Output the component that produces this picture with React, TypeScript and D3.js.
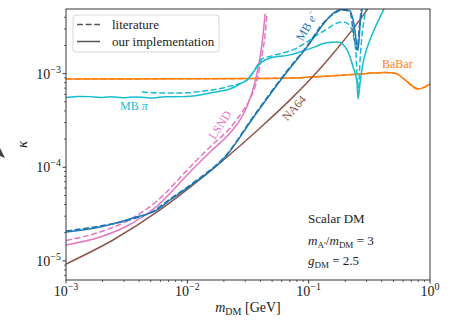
import React from 'react';
import * as d3 from 'd3';

type P = [number, number];

// axis ticks
const xMajor = [1e-3, 1e-2, 1e-1, 1];
const xMajorExp = ['−3', '−2', '−1', '0'];
const yMajor = [1e-5, 1e-4, 1e-3];
const yMajorExp = ['−5', '−4', '−3'];

// series (m_DM [GeV], kappa)
const babar: P[] = [[1e-3, 8.78e-4], [1e-2, 8.8e-4], [3e-2, 8.85e-4], [8.5e-2, 9.06e-4], [0.25, 9.85e-4], [0.426, 1.025e-3], [0.516, 1.01e-3], [0.623, 8.57e-4], [0.798, 6.86e-4], [0.911, 7.21e-4], [1.0, 7.76e-4]];

const na64: P[] = [[1e-3, 9.27e-6], [2.441e-3, 1.672e-5], [5.953e-3, 3.5e-5], [1.114e-2, 6.47e-5], [2.125e-2, 1.288e-4], [3.974e-2, 2.63e-4], [7.026e-2, 5.24e-4], [0.1365, 1.3e-3], [0.303, 4.793e-3], [0.32, 5.3e-3]];

const lsndLit: P[] = [[1e-3, 1.651e-5], [1.907e-3, 2.036e-5], [3.183e-3, 2.668e-5], [5.625e-3, 4.365e-5], [1.053e-2, 1.007e-4], [1.539e-2, 1.648e-4], [2.249e-2, 2.63e-4], [2.72e-2, 3.62e-4], [3.288e-2, 5.37e-4], [3.754e-2, 8.57e-4], [4.128e-2, 1.585e-3], [4.37e-2, 2.592e-3], [4.539e-2, 4.45e-3]];
const lsndOurs: P[] = [[1e-3, 1.479e-5], [1.907e-3, 1.8e-5], [3.183e-3, 2.36e-5], [5.625e-3, 3.86e-5], [1.053e-2, 8.91e-5], [1.539e-2, 1.457e-4], [2.249e-2, 2.325e-4], [2.72e-2, 3.2e-4], [3.165e-2, 4.745e-4], [3.614e-2, 8.15e-4], [3.974e-2, 1.508e-3], [4.207e-2, 2.592e-3], [4.37e-2, 4.342e-3]];

const mbELit: P[] = [[1e-3, 2.087e-5], [1.907e-3, 2.36e-5], [3.567e-3, 2.803e-5], [4.927e-3, 3.25e-5], [7.203e-3, 4.58e-5], [1.114e-2, 6.8e-5], [2.125e-2, 1.387e-4], [3.48e-2, 3.446e-4], [6.152e-2, 9.45e-4], [9.7e-2, 1.976e-3], [0.1365, 3.656e-3], [0.1651, 4.45e-3], [0.1885, 4.793e-3], [0.2194, 4.561e-3], [0.2323, 2.931e-3], [0.2506, 1.791e-3], [0.2603, 2.931e-3], [0.2704, 4.793e-3]];
const mbEOurs: P[] = [[1e-3, 2.036e-5], [1.907e-3, 2.3e-5], [3.567e-3, 2.872e-5], [5.625e-3, 3.5e-5], [7.203e-3, 4.47e-5], [1.114e-2, 6.63e-5], [2.125e-2, 1.353e-4], [3.48e-2, 3.362e-4], [6.152e-2, 9.22e-4], [9.7e-2, 1.929e-3], [0.1365, 3.567e-3], [0.1651, 4.561e-3], [0.1885, 4.85e-3], [0.2194, 4.676e-3], [0.2367, 3.314e-3], [0.2554, 1.791e-3], [0.2652, 3.314e-3], [0.2755, 4.91e-3]];

const mbPiLit: P[] = [[4.231e-3, 6.37e-4], [5.953e-3, 6.22e-4], [8.705e-3, 6.22e-4], [1.273e-2, 6.45e-4], [2.125e-2, 7.21e-4], [3.106e-2, 8.57e-4], [3.415e-2, 9.93e-4], [3.754e-2, 1.209e-3], [4.128e-2, 1.436e-3], [4.991e-2, 1.546e-3], [6.152e-2, 1.664e-3], [7.724e-2, 1.836e-3], [9.7e-2, 2.182e-3], [0.1173, 2.592e-3], [0.1418, 3.004e-3], [0.1651, 3.396e-3], [0.1885, 3.567e-3], [0.2112, 3.396e-3], [0.2323, 2.592e-3], [0.2459, 1.585e-3], [0.2554, 5.78e-4], [0.2652, 1.401e-3], [0.2755, 2.592e-3], [0.2862, 3.748e-3], [0.2973, 4.91e-3]];
const mbPiOurs: P[] = [[1e-3, 5.57e-4], [1.186e-3, 5.665e-4], [1.304e-3, 5.71e-4], [1.577e-3, 5.68e-4], [1.907e-3, 5.57e-4], [2.305e-3, 5.65e-4], [2.633e-3, 5.595e-4], [3.065e-3, 5.527e-4], [3.705e-3, 5.64e-4], [4.479e-3, 5.57e-4], [5.215e-3, 5.5e-4], [6.55e-3, 5.665e-4], [9.218e-3, 5.68e-4], [1.273e-2, 5.92e-4], [1.757e-2, 6.42e-4], [2.249e-2, 6.86e-4], [2.72e-2, 7.76e-4], [3.106e-2, 8.57e-4], [3.415e-2, 9.93e-4], [3.754e-2, 1.179e-3], [4.128e-2, 1.334e-3], [4.805e-2, 1.471e-3], [7.026e-2, 1.585e-3], [8.494e-2, 1.705e-3], [0.1129, 1.929e-3], [0.1365, 2.128e-3], [0.1747, 2.182e-3], [0.2073, 1.791e-3], [0.2323, 1.179e-3], [0.2506, 7.96e-4], [0.2554, 5.37e-4], [0.2652, 7.96e-4], [0.2808, 1.3e-3], [0.3088, 2.025e-3], [0.3461, 2.931e-3], [0.3878, 4.034e-3], [0.4183, 4.91e-3]];

const C = { blue: '#1f77b4', orange: '#ff7f0e', pink: '#e377c2', brown: '#8c564b', cyan: '#17becf' };

const W = 452, H = 324;
const M = { left: 66, right: 22, top: 9, bottom: 44 };
const FONT = "'Liberation Serif', 'DejaVu Serif', serif";
const DASH = '6,2.6';

export default function App() {
  const x = d3.scaleLog().domain([1e-3, 1]).range([M.left, W - M.right]);
  const y = d3.scaleLog().domain([6.25e-6, 4.9e-3]).range([H - M.bottom, M.top]);
  const line = d3.line<P>().x(d => x(d[0])).y(d => y(d[1])).curve(d3.curveMonotoneX);

  const series: { d: P[]; c: string; dash?: boolean }[] = [
    { d: babar, c: C.orange },
    { d: babar, c: C.orange, dash: true },
    { d: na64, c: C.brown },
    { d: lsndLit, c: C.pink, dash: true },
    { d: lsndOurs, c: C.pink },
    { d: mbPiLit, c: C.cyan, dash: true },
    { d: mbPiOurs, c: C.cyan },
    { d: mbELit, c: C.blue, dash: true },
    { d: mbEOurs, c: C.blue },
  ];

  const xMinor: number[] = [];
  for (let e = -3; e < 0; e++) for (let k = 2; k <= 9; k++) xMinor.push(k * Math.pow(10, e));
  const yMinor: number[] = [];
  for (let e = -6; e < -2; e++) for (let k = 2; k <= 9; k++) {
    const v = k * Math.pow(10, e);
    if (v >= 6.25e-6 && v <= 4.9e-3) yMinor.push(v);
  }

  const x0 = M.left, x1 = W - M.right, y0 = M.top, y1 = H - M.bottom;

  return (
    <svg width={W} height={H} style={{ position: 'absolute', left: 0, top: 0, background: '#fff', fontFamily: FONT }}>
      <defs>
        <clipPath id="plot"><rect x={x0} y={y0} width={x1 - x0} height={y1 - y0} /></clipPath>
      </defs>
      <rect x={0} y={0} width={W} height={H} fill="#fff" />
      <polygon points="0,148 5,158 0,156" fill="#444" />

      <g clipPath="url(#plot)">
        {series.map((s, i) => (
          <path key={i} d={line(s.d) || ''} fill="none" stroke={s.c} strokeWidth={1.5}
            strokeDasharray={s.dash ? DASH : undefined} strokeLinejoin="round" />
        ))}
      </g>

      {/* frame */}
      <rect x={x0} y={y0} width={x1 - x0} height={y1 - y0} fill="none" stroke="#222" strokeWidth={0.9} />

      {/* x ticks */}
      {xMajor.map((v, i) => (
        <g key={'xm' + i}>
          <line x1={x(v)} x2={x(v)} y1={y1} y2={y1 + 3.5} stroke="#222" strokeWidth={0.9} />
          <text x={x(v)} y={y1 + 16} textAnchor="middle" fontSize={14} fill="#222">
            <tspan>10</tspan><tspan dy={-6} fontSize={10}>{xMajorExp[i]}</tspan>
          </text>
        </g>
      ))}
      {xMinor.map((v, i) => (
        <line key={'xn' + i} x1={x(v)} x2={x(v)} y1={y1} y2={y1 + 2} stroke="#222" strokeWidth={0.7} />
      ))}
      {/* y ticks */}
      {yMajor.map((v, i) => (
        <g key={'ym' + i}>
          <line x1={x0 - 3.5} x2={x0} y1={y(v)} y2={y(v)} stroke="#222" strokeWidth={0.9} />
          <text x={x0 - 5} y={y(v) + 5} textAnchor="end" fontSize={14} fill="#222">
            <tspan>10</tspan><tspan dy={-6} fontSize={10}>{yMajorExp[i]}</tspan>
          </text>
        </g>
      ))}
      {yMinor.map((v, i) => (
        <line key={'yn' + i} x1={x0 - 2} x2={x0} y1={y(v)} y2={y(v)} stroke="#222" strokeWidth={0.7} />
      ))}

      {/* axis labels */}
      <text x={(x0 + x1) / 2} y={312} textAnchor="middle" fontSize={14} fill="#222">
        <tspan fontStyle="italic">m</tspan><tspan fontSize={10} dy={3}>DM</tspan><tspan dy={-3}> [GeV]</tspan>
      </text>
      <text transform={`translate(27,${(y0 + y1) / 2}) rotate(-90)`} textAnchor="middle" fontSize={15} fontStyle="italic" fill="#222">κ</text>

      {/* legend */}
      <rect x={73} y={15} width={146} height={37} rx={3} fill="#fff" fillOpacity={0.85} stroke="#ccc" strokeWidth={0.8} />
      <line x1={77} x2={100} y1={24.5} y2={24.5} stroke="#555" strokeWidth={1.5} strokeDasharray={DASH} />
      <text x={112} y={28.5} fontSize={13} fill="#222">literature</text>
      <line x1={77} x2={100} y1={41.5} y2={41.5} stroke="#555" strokeWidth={1.5} />
      <text x={112} y={45.5} fontSize={13} fill="#222">our implementation</text>

      {/* curve labels */}
      <text x={382} y={68} fontSize={12} fill={C.orange}>BaBar</text>
      <text x={120} y={110} fontSize={12} fill={C.cyan}>MB <tspan fontStyle="italic">π</tspan></text>
      <text transform="translate(220,125) rotate(-57)" textAnchor="middle" dy={4} fontSize={12} fill={C.pink}>LSND</text>
      <text transform="translate(294,108) rotate(-48)" textAnchor="middle" dy={4} fontSize={12} fill={C.brown}>NA64</text>
      <text transform="translate(307,26) rotate(-60)" textAnchor="middle" dy={4} fontSize={12} fill={C.blue}>
        MB <tspan fontStyle="italic">e</tspan><tspan fontSize={8} dy={-5}>−</tspan>
      </text>

      {/* annotation */}
      <text x={308} y={223} fontSize={13} fill="#222">Scalar DM</text>
      <text x={308} y={245} fontSize={13} fill="#222">
        <tspan fontStyle="italic">m</tspan><tspan fontSize={9} dy={3}>A′</tspan><tspan dy={-3}>/</tspan><tspan fontStyle="italic">m</tspan><tspan fontSize={9} dy={3}>DM</tspan><tspan dy={-3}> = 3</tspan>
      </text>
      <text x={308} y={265} fontSize={13} fill="#222">
        <tspan fontStyle="italic">g</tspan><tspan fontSize={9} dy={3}>DM</tspan><tspan dy={-3}> = 2.5</tspan>
      </text>
    </svg>
  );
}
